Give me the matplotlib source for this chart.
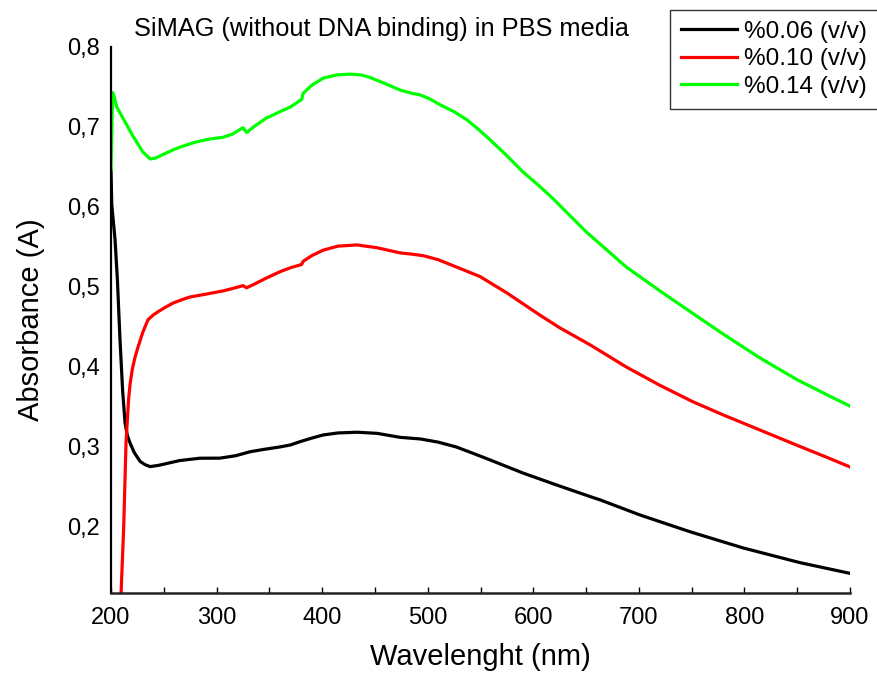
# -*- coding: utf-8 -*-
# Espectros UV-Vis de SiMAG en PBS
import matplotlib
matplotlib.use('Agg')
import matplotlib.pyplot as plt
from matplotlib.ticker import MultipleLocator, FixedLocator, FixedFormatter

plt.rcParams['font.family'] = ['Liberation Sans', 'DejaVu Sans']

# Datos
wl_006 = [200, 200.7, 203.8, 206, 208.5, 211, 213.3, 215.5, 218, 222, 227.5, 232, 237,
          245, 255, 265, 284, 303, 318, 331.7, 345, 360, 370, 379, 390, 401, 415, 433,
          452, 474, 493, 510, 527, 543, 559, 590, 622, 654, 663, 701, 748.5, 798.7,
          852.6, 900]
abs_006 = [0.645, 0.603, 0.559, 0.51, 0.434, 0.37, 0.33, 0.314, 0.305, 0.293, 0.282,
           0.278, 0.2754, 0.277, 0.280, 0.283, 0.2859, 0.286, 0.289, 0.294, 0.297, 0.300,
           0.3025, 0.3066, 0.311, 0.315, 0.3175, 0.3184, 0.317, 0.312, 0.31, 0.306, 0.30,
           0.292, 0.2838, 0.2675, 0.2525, 0.2379, 0.234, 0.215, 0.194, 0.1738, 0.1554,
           0.142]

wl_010 = [209, 212, 214.2, 216.6, 218, 220, 222.5, 225.6, 230, 235, 240, 244.5, 252, 259,
          267, 275, 290, 306, 315, 325, 328.5, 335, 347, 360, 370, 379, 380.5, 382, 390,
          401, 415, 433, 452, 474, 485, 496, 510, 527, 549.5, 575, 606, 625, 654, 688,
          720, 751, 780, 815, 850, 880, 900]
abs_010 = [0.10, 0.20, 0.305, 0.359, 0.378, 0.396, 0.411, 0.425, 0.443, 0.459, 0.465,
           0.469, 0.475, 0.48, 0.484, 0.4875, 0.491, 0.495, 0.498, 0.5016, 0.499, 0.503,
           0.511, 0.519, 0.524, 0.5275, 0.528, 0.532, 0.539, 0.546, 0.551, 0.5525, 0.549,
           0.5425, 0.541, 0.539, 0.534, 0.525, 0.513, 0.4925, 0.465, 0.449, 0.4275, 0.40,
           0.377, 0.3566, 0.340, 0.321, 0.302, 0.286, 0.275]

wl_014 = [200, 201.5, 203, 205.4, 213, 221, 230, 237, 242, 250, 260, 268, 280, 294, 306,
          315, 325, 328.5, 335, 347, 360, 370, 379, 380.5, 382, 390, 401, 414, 426, 437,
          445, 460, 474, 485, 493, 502, 512, 525, 537, 548, 559, 575, 590, 605, 619, 625,
          650, 688, 720, 751, 780, 815, 850, 880, 900]
abs_014 = [0.646, 0.743, 0.738, 0.725, 0.707, 0.688, 0.669, 0.660, 0.661, 0.666, 0.672,
           0.676, 0.681, 0.685, 0.687, 0.691, 0.699, 0.693, 0.700, 0.711, 0.719, 0.725,
           0.733, 0.734, 0.742, 0.752, 0.761, 0.765, 0.766, 0.765, 0.762, 0.754, 0.746,
           0.742, 0.740, 0.735, 0.7275, 0.719, 0.709, 0.697, 0.684, 0.664, 0.644, 0.627,
           0.610, 0.602, 0.569, 0.525, 0.495, 0.467, 0.441, 0.411, 0.384, 0.364, 0.351]

etiquetas = ['%0.06 (v/v)', '%0.10 (v/v)', '%0.14 (v/v)']
colores = ['black', '#ff0000', '#00ff00']
y_ticks = [0.2, 0.3, 0.4, 0.5, 0.6, 0.7, 0.8]
y_labels = ['0,2', '0,3', '0,4', '0,5', '0,6', '0,7', '0,8']

fig = plt.figure(figsize=(8.77, 6.8), dpi=100)
ax = fig.add_axes([0.1266, 0.128, 0.8426, 0.803])

lineas = []
for wl, ab, col, lab in zip([wl_006, wl_010, wl_014], [abs_006, abs_010, abs_014],
                            colores, etiquetas):
    l, = ax.plot(wl, ab, color=col, lw=2.3, label=lab)
    lineas.append(l)

ax.set_xlim(200, 900)
ax.set_ylim(0.1175, 0.8)
ax.xaxis.set_major_locator(MultipleLocator(100))
ax.xaxis.set_minor_locator(MultipleLocator(50))
ax.yaxis.set_major_locator(FixedLocator(y_ticks))
ax.yaxis.set_major_formatter(FixedFormatter(y_labels))

ax.spines['top'].set_visible(False)
ax.spines['right'].set_visible(False)
ax.spines['left'].set_linewidth(1.6)
ax.spines['bottom'].set_linewidth(1.8)
ax.spines['bottom'].set_color('#222222')

ax.tick_params(axis='x', which='both', direction='in', length=4, width=1,
               labelsize=17, pad=10)
ax.tick_params(axis='y', which='both', length=0, labelsize=17, pad=8)

ax.set_xlabel('Wavelenght (nm)', fontsize=21, labelpad=10)
ax.set_ylabel('Absorbance (A)', fontsize=21, labelpad=16)

fig.text(0.435, 0.958, 'SiMAG (without DNA binding) in PBS media', fontsize=18.3,
         ha='center', va='center')

leg = fig.legend(handles=lineas, loc='upper left', bbox_to_anchor=(0.764, 0.9853),
                 bbox_transform=fig.transFigure, fontsize=17.5, frameon=True,
                 fancybox=False, edgecolor='black', handlelength=2.3,
                 handletextpad=0.3, borderpad=0.45, labelspacing=0.22,
                 borderaxespad=0)
leg.get_frame().set_linewidth(1.0)

fig.savefig('out.png', dpi=100)
